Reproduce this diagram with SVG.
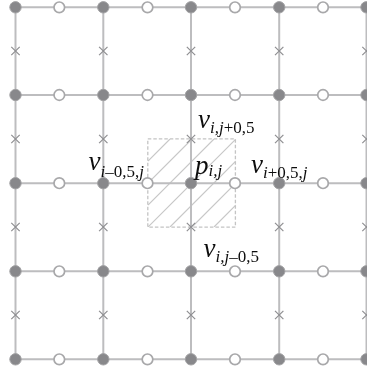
<svg xmlns="http://www.w3.org/2000/svg" xmlns:xlink="http://www.w3.org/1999/xlink" width="367" height="370" viewBox="0 0 367 370">
<style>
.grid{stroke:#bdbdbf;stroke-width:2;fill:none}
.x{stroke:#8f8f92;stroke-width:1.2;fill:none}
.hatch{stroke:#c8c8c8;stroke-width:1.2;fill:none}
.cell{stroke:#c4c4c4;stroke-width:1.3;stroke-dasharray:3.5 2;fill:none}
.p{fill:#88888b;stroke:#a2a2a4;stroke-width:1}
.u{fill:#fff;stroke:#a8a8aa;stroke-width:1.7}
text{font-family:"Liberation Serif","Times New Roman",serif;font-style:italic;fill:#111}
.m{font-size:27px}.s{font-size:17px}.d{font-style:normal}
</style>
<defs>
<clipPath id="c"><rect x="148" y="139" width="87.5" height="88"/></clipPath>
<path id="xm" class="x" d="M-4.2-4.2L4.2 4.2M-4.2 4.2L4.2-4.2"/>
<circle id="pn" class="p" r="5.7"/>
<circle id="un" class="u" r="5.3"/>
<filter id="b" x="-5%" y="-5%" width="110%" height="110%"><feGaussianBlur stdDeviation="0.45"/></filter>
</defs>
<rect width="367" height="370" fill="#fff"/>
<g filter="url(#b)">
<g id="hatch" class="hatch" clip-path="url(#c)">
<path d="M148 161L170 139M148 183L192 139M148 205L214 139M148 227L236 139M170 227L236 161M192 227L236 183M214 227L236 205"/>
</g>
<g id="connectors">
<path class="grid" d="M15.5 7.3H367M15.5 95H367M15.5 183.2H367M15.5 271.3H367M15.5 359.3H367M15.5 7.3V359.3M103.3 7.3V359.3M191 7.3V359.3M279.2 7.3V359.3M366.5 7.3V359.3"/>
<rect class="cell" x="147.8" y="138.8" width="87.6" height="88.4"/>
</g>
<g id="crosses">
<use xlink:href="#xm" x="15.5" y="51"/><use xlink:href="#xm" x="103.3" y="51"/><use xlink:href="#xm" x="191" y="51"/><use xlink:href="#xm" x="279.2" y="51"/><use xlink:href="#xm" x="366.5" y="51"/>
<use xlink:href="#xm" x="15.5" y="139"/><use xlink:href="#xm" x="103.3" y="139"/><use xlink:href="#xm" x="191" y="139"/><use xlink:href="#xm" x="279.2" y="139"/><use xlink:href="#xm" x="366.5" y="139"/>
<use xlink:href="#xm" x="15.5" y="227"/><use xlink:href="#xm" x="103.3" y="227"/><use xlink:href="#xm" x="191" y="227"/><use xlink:href="#xm" x="279.2" y="227"/><use xlink:href="#xm" x="366.5" y="227"/>
<use xlink:href="#xm" x="15.5" y="315"/><use xlink:href="#xm" x="103.3" y="315"/><use xlink:href="#xm" x="191" y="315"/><use xlink:href="#xm" x="279.2" y="315"/><use xlink:href="#xm" x="366.5" y="315"/>
</g>
<g id="pressure-nodes">
<use xlink:href="#pn" x="15.5" y="7.3"/><use xlink:href="#pn" x="103.3" y="7.3"/><use xlink:href="#pn" x="191" y="7.3"/><use xlink:href="#pn" x="279.2" y="7.3"/><use xlink:href="#pn" x="366.5" y="7.3"/>
<use xlink:href="#pn" x="15.5" y="95"/><use xlink:href="#pn" x="103.3" y="95"/><use xlink:href="#pn" x="191" y="95"/><use xlink:href="#pn" x="279.2" y="95"/><use xlink:href="#pn" x="366.5" y="95"/>
<use xlink:href="#pn" x="15.5" y="183.2"/><use xlink:href="#pn" x="103.3" y="183.2"/><use xlink:href="#pn" x="191" y="183.2"/><use xlink:href="#pn" x="279.2" y="183.2"/><use xlink:href="#pn" x="366.5" y="183.2"/>
<use xlink:href="#pn" x="15.5" y="271.3"/><use xlink:href="#pn" x="103.3" y="271.3"/><use xlink:href="#pn" x="191" y="271.3"/><use xlink:href="#pn" x="279.2" y="271.3"/><use xlink:href="#pn" x="366.5" y="271.3"/>
<use xlink:href="#pn" x="15.5" y="359.3"/><use xlink:href="#pn" x="103.3" y="359.3"/><use xlink:href="#pn" x="191" y="359.3"/><use xlink:href="#pn" x="279.2" y="359.3"/><use xlink:href="#pn" x="366.5" y="359.3"/>
</g>
<g id="velocity-nodes">
<use xlink:href="#un" x="59.3" y="7.3"/><use xlink:href="#un" x="147.5" y="7.3"/><use xlink:href="#un" x="235" y="7.3"/><use xlink:href="#un" x="323" y="7.3"/>
<use xlink:href="#un" x="59.3" y="95"/><use xlink:href="#un" x="147.5" y="95"/><use xlink:href="#un" x="235" y="95"/><use xlink:href="#un" x="323" y="95"/>
<use xlink:href="#un" x="59.3" y="183.2"/><use xlink:href="#un" x="147.5" y="183.2"/><use xlink:href="#un" x="235" y="183.2"/><use xlink:href="#un" x="323" y="183.2"/>
<use xlink:href="#un" x="59.3" y="271.3"/><use xlink:href="#un" x="147.5" y="271.3"/><use xlink:href="#un" x="235" y="271.3"/><use xlink:href="#un" x="323" y="271.3"/>
<use xlink:href="#un" x="59.3" y="359.3"/><use xlink:href="#un" x="147.5" y="359.3"/><use xlink:href="#un" x="235" y="359.3"/><use xlink:href="#un" x="323" y="359.3"/>
</g>
<g id="labels">
<text x="198" y="128" class="m">v<tspan class="s" dy="4.5">i,j<tspan class="d">+0,5</tspan></tspan></text>
<text x="88.5" y="170" class="m">v<tspan class="s" dy="6.5">i<tspan class="d">–0,5,</tspan>j</tspan></text>
<text x="195" y="174" class="m">p<tspan class="s" dy="2">i,j</tspan></text>
<text x="251" y="172.5" class="m">v<tspan class="s" dy="5.5">i<tspan class="d">+0,5,</tspan>j</tspan></text>
<text x="203.5" y="257" class="m">v<tspan class="s" dy="4.5">i,j<tspan class="d">–0,5</tspan></tspan></text>
</g>
</g>
</svg>
